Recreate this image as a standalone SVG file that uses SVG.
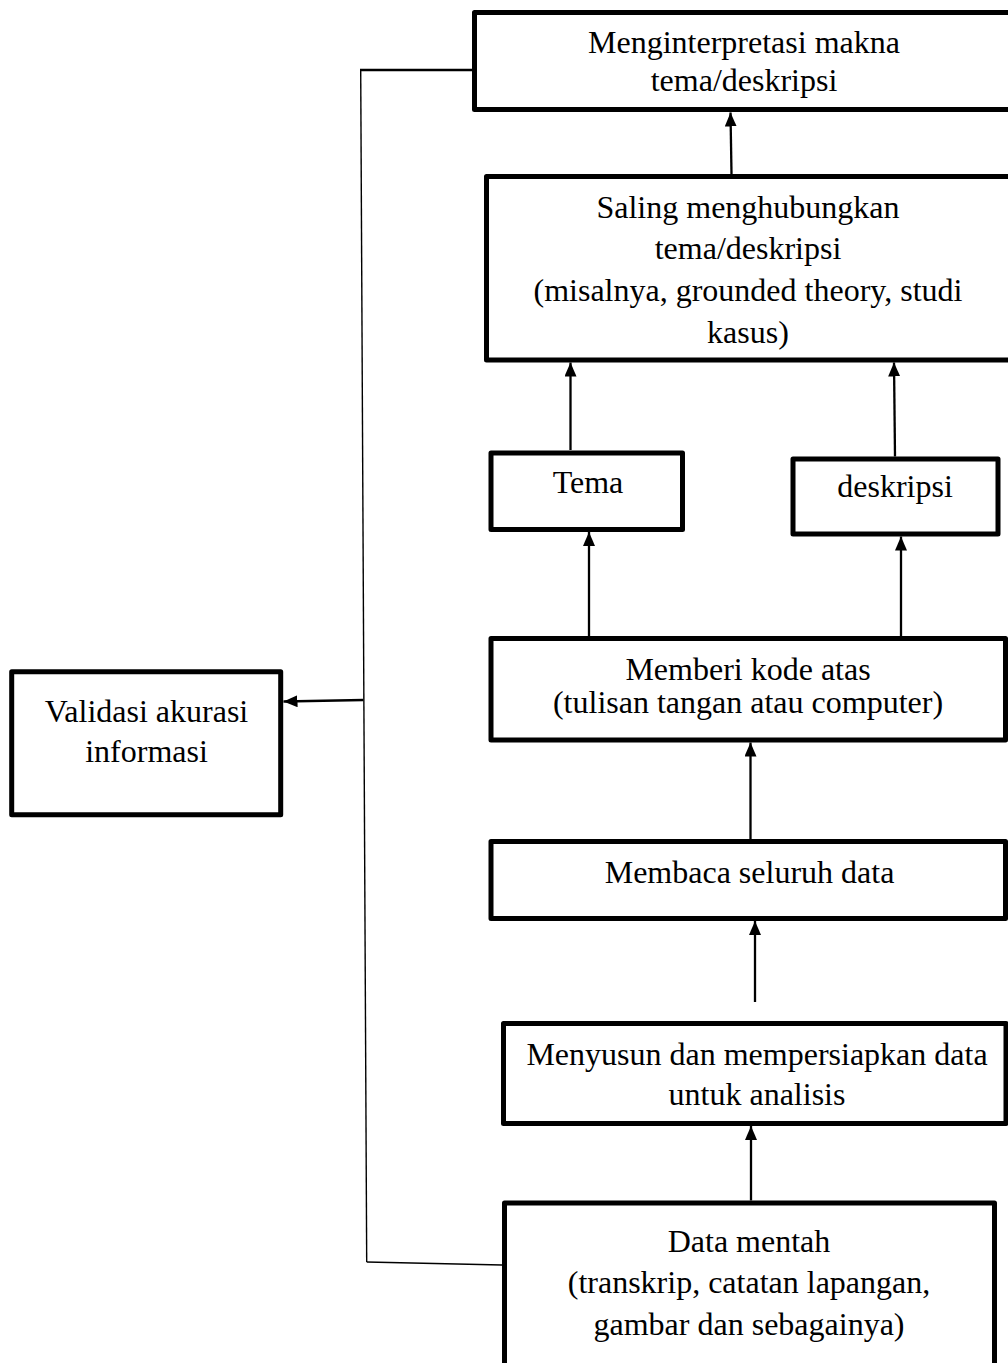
<svg xmlns="http://www.w3.org/2000/svg" width="1008" height="1363" viewBox="0 0 1008 1363">
<style>
.box{fill:#fff;stroke:#000;stroke-width:5;stroke-linejoin:round}
.lbl{font-family:"Liberation Serif","Times New Roman",serif;font-size:32px;fill:#000;text-anchor:middle}
.con{stroke:#000;stroke-width:2.3;fill:none}
.thin{stroke:#000;stroke-width:1.4;fill:none}
</style>
<defs>
<marker id="ah" markerUnits="userSpaceOnUse" markerWidth="14" markerHeight="12" refX="14" refY="6" orient="auto">
<path d="M0,0 L14,6 L0,12 z" fill="#000"/>
</marker>
</defs>
<rect width="1008" height="1363" fill="#fff"/>
<g id="connectors">
<line class="con" x1="731.5" y1="174" x2="730.5" y2="112.5" marker-end="url(#ah)"/>
<line class="con" x1="570.5" y1="450" x2="570.5" y2="362.5" marker-end="url(#ah)"/>
<line class="con" x1="895" y1="456.5" x2="894" y2="362.5" marker-end="url(#ah)"/>
<line class="con" x1="589" y1="636" x2="589" y2="532" marker-end="url(#ah)"/>
<line class="con" x1="901" y1="636" x2="901" y2="536.5" marker-end="url(#ah)"/>
<line class="con" x1="750.5" y1="839" x2="750.5" y2="742.5" marker-end="url(#ah)"/>
<line class="con" x1="755" y1="1002" x2="755" y2="921" marker-end="url(#ah)"/>
<line class="con" x1="751" y1="1200.5" x2="751" y2="1126" marker-end="url(#ah)"/>
<line class="con" x1="472" y1="70" x2="360" y2="70"/>
<line class="thin" x1="360.7" y1="70" x2="366.7" y2="1262"/>
<line class="thin" x1="366.7" y1="1262" x2="502" y2="1265"/>
<line class="con" x1="363.5" y1="700" x2="283.5" y2="701.5" marker-end="url(#ah)"/>
</g>
<g id="n-interpretasi">
<rect class="box" x="474.5" y="12.5" width="540" height="97"/>
<text class="lbl" x="744" y="53">Menginterpretasi makna</text>
<text class="lbl" x="744" y="91">tema/deskripsi</text>
</g>
<g id="n-saling">
<rect class="box" x="486.5" y="176.5" width="528" height="183.5"/>
<text class="lbl" x="748" y="218">Saling menghubungkan</text>
<text class="lbl" x="748" y="259">tema/deskripsi</text>
<text class="lbl" x="748" y="301">(misalnya, grounded theory, studi</text>
<text class="lbl" x="748" y="343">kasus)</text>
</g>
<g id="n-tema">
<rect class="box" x="491" y="453" width="191.5" height="76.5"/>
<text class="lbl" x="588" y="493">Tema</text>
</g>
<g id="n-deskripsi">
<rect class="box" x="793" y="459" width="205" height="75"/>
<text class="lbl" x="895" y="497">deskripsi</text>
</g>
<g id="n-memberi">
<rect class="box" x="491" y="638.5" width="514.5" height="101.5"/>
<text class="lbl" x="748" y="680">Memberi kode atas</text>
<text class="lbl" x="748" y="713">(tulisan tangan atau computer)</text>
</g>
<g id="n-membaca">
<rect class="box" x="491" y="841.5" width="514.5" height="77"/>
<text class="lbl" x="749.5" y="883">Membaca seluruh data</text>
</g>
<g id="n-menyusun">
<rect class="box" x="503.5" y="1023.5" width="502.5" height="100"/>
<text class="lbl" x="757" y="1065">Menyusun dan mempersiapkan data</text>
<text class="lbl" x="757" y="1105">untuk analisis</text>
</g>
<g id="n-datamentah">
<rect class="box" x="504.5" y="1203" width="490" height="175"/>
<text class="lbl" x="749" y="1252">Data mentah</text>
<text class="lbl" x="749" y="1293">(transkrip, catatan lapangan,</text>
<text class="lbl" x="749" y="1335">gambar dan sebagainya)</text>
</g>
<g id="n-validasi">
<rect class="box" x="11.7" y="671.7" width="269" height="143"/>
<text class="lbl" x="146.5" y="722">Validasi akurasi</text>
<text class="lbl" x="146.5" y="762">informasi</text>
</g>
</svg>
